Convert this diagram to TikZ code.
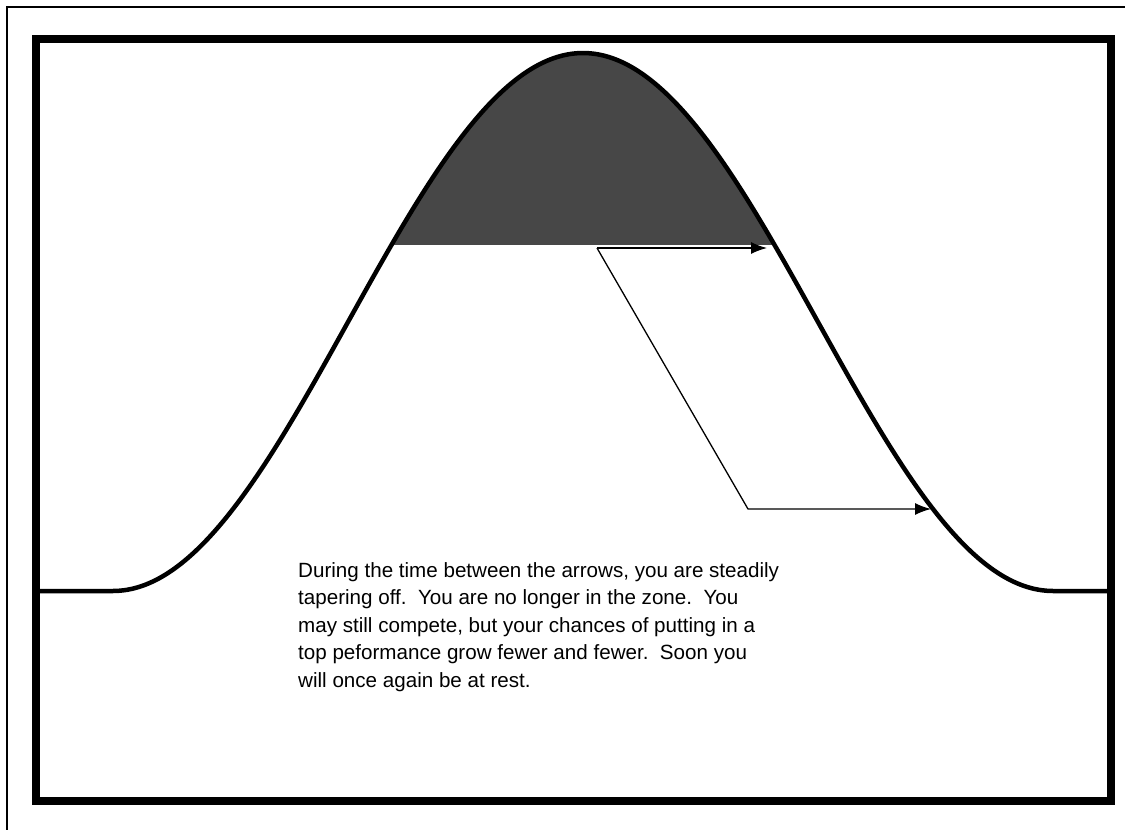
\documentclass[tikz,border=0pt]{standalone}
\usepackage{fontspec}
\setmainfont{Liberation Sans}
\usetikzlibrary{arrows.meta, positioning}

\begin{document}
\begin{tikzpicture}[
    x=1pt, y=-1pt,
    frame/.style={line width=7.5pt},
    curve/.style={line width=4.5pt, line join=round},
    arrow/.style={-{Latex[length=16pt, width=12pt]}, line width=1.3pt},
    note/.style={anchor=base west, align=left, inner sep=0pt, font=\fontsize{20.6}{27.5}\selectfont},
]
\useasboundingbox (0,0) rectangle (1125,830);

% Page edge and frame
\draw[line width=1.5pt] (7,830) -- (7,7) -- (1125,7);
\draw[frame] (36,39) rectangle (1111,801);

% Performance curve (raised cosine, flat at both ends)
\path[save path=\peakpath] (36,591) -- (113,591)
    -- plot[domain=113:1053, samples=141, smooth] (\x, {591-269*(1+cos((\x-583)*0.382979))})
    -- (1111,591);
\begin{scope}
  \clip (36,39) rectangle (1111,244);
  \fill[black!72, use path=\peakpath];
\end{scope}
\draw[curve, use path=\peakpath];

% Arrows
\coordinate (fork) at (597,248);
\coordinate (topend) at (767,248);
\coordinate (kink) at (748,509);
\coordinate (lowend) at (931,509);
\draw[arrow] (fork) -- (topend);
\draw[arrow] (fork) -- (kink) -- (lowend);

% Caption (anchored at the last line)
\node[note] (caption) at (298,687) {During the time between the arrows, you are steadily\\
    tapering off.\ \ You are no longer in the zone.\ \ You\\
    may still compete, but your chances of putting in a\\
    top peformance grow fewer and fewer.\ \ Soon you\\
    will once again be at rest.};

\end{tikzpicture}
\end{document}
